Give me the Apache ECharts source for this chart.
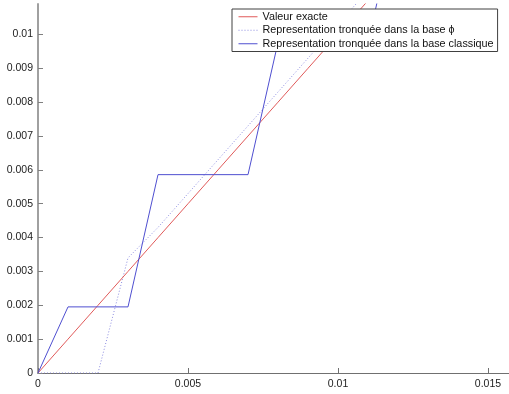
<!DOCTYPE html>
<html>
<head>
<meta charset="utf-8">
<script src="https://cdn.jsdelivr.net/npm/echarts@6/dist/echarts.min.js"></script>
<style>
  html, body { margin: 0; padding: 0; background: #fff; }
  #chart { width: 509px; height: 394px; }
</style>
</head>
<body>
<div id="chart"></div>
<script>
// Sample abscissae
const xValues = [0, 0.001, 0.002, 0.003, 0.004, 0.005, 0.006, 0.007,
                 0.008, 0.009, 0.010, 0.011, 0.012, 0.013, 0.014, 0.015];
// Exact value
const exactValues = [0, 0.001, 0.002, 0.003, 0.004, 0.005, 0.006, 0.007,
                     0.008, 0.009, 0.010, 0.011, 0.012, 0.013, 0.014, 0.015];
// Truncated representation in base phi
const phiValues = [0, 0, 0, 0.0034, 0.0043, 0.0053, 0.0063, 0.0073,
                   0.0083, 0.0093, 0.0103, 0.0113, 0.0123, 0.0133, 0.0143, 0.0153];
// Truncated representation in the classical base
const classicValues = [0, 0.001953, 0.001953, 0.001953, 0.005859, 0.005859, 0.005859, 0.005859,
                       0.009766, 0.009766, 0.009766, 0.009766, 0.013672, 0.013672, 0.013672, 0.013672];

const xTicks = [0, 0.005, 0.01, 0.015];
const yTicks = [0, 0.001, 0.002, 0.003, 0.004, 0.005, 0.006, 0.007, 0.008, 0.009, 0.01];

const seriesNames = [
  'Valeur exacte',
  'Representation tronquée dans la base \u03d5',
  'Representation tronquée dans la base classique'
];

const pairs = (ys) => xValues.map((x, i) => [x, ys[i]]);

const FONT = '"Liberation Sans", Arial, sans-serif';

const chart = echarts.init(document.getElementById('chart'), null, { renderer: 'canvas' });
chart.setOption({
  animation: false,
  backgroundColor: '#ffffff',
  grid: { left: 38, top: 4, right: 0, bottom: 21 },
  xAxis: {
    type: 'value',
    min: 0,
    max: 0.0157,
    axisLine: { show: true, onZero: false, lineStyle: { color: '#707070', width: 1 } },
    axisTick: { show: true, inside: true, length: 5, customValues: xTicks, lineStyle: { color: '#707070' } },
    axisLabel: {
      customValues: xTicks,
      formatter: (v) => String(v),
      color: '#222', fontFamily: FONT, fontSize: 10.5, margin: 6
    },
    splitLine: { show: false }
  },
  yAxis: {
    type: 'value',
    min: 0,
    max: 0.0109,
    axisLine: { show: true, onZero: false, lineStyle: { color: '#a0a0a0', width: 2 } },
    axisTick: { show: true, inside: true, length: 5, customValues: yTicks, lineStyle: { color: '#808080' } },
    axisLabel: {
      customValues: yTicks,
      formatter: (v) => String(v),
      color: '#222', fontFamily: FONT, fontSize: 10.5, margin: 5
    },
    splitLine: { show: false }
  },
  legend: {
    orient: 'vertical',
    left: 232,
    top: 9,
    z: 20,
    padding: [2, 4, 2, 6],
    itemGap: 2,
    itemWidth: 19,
    itemHeight: 11,
    backgroundColor: '#ffffff',
    borderColor: '#404040',
    borderWidth: 1,
    borderRadius: 0,
    itemStyle: { opacity: 0 },
    lineStyle: { width: 1 },
    textStyle: { color: '#111', fontFamily: FONT, fontSize: 10.8, lineHeight: 11.5 },
    data: seriesNames
  },
  series: [
    {
      name: seriesNames[0],
      type: 'line',
      data: pairs(exactValues),
      symbol: 'none',
      lineStyle: { color: '#e05a5a', width: 1 },
      itemStyle: { color: '#e05a5a' },
      z: 3
    },
    {
      name: seriesNames[1],
      type: 'line',
      data: pairs(phiValues),
      symbol: 'none',
      lineStyle: { color: '#8c8ce0', width: 1, type: [1, 2] },
      itemStyle: { color: '#8c8ce0' },
      z: 2
    },
    {
      name: seriesNames[2],
      type: 'line',
      data: pairs(classicValues),
      symbol: 'none',
      lineStyle: { color: '#4f4fd0', width: 1 },
      itemStyle: { color: '#4f4fd0' },
      z: 4
    }
  ]
});
</script>
</body>
</html>
